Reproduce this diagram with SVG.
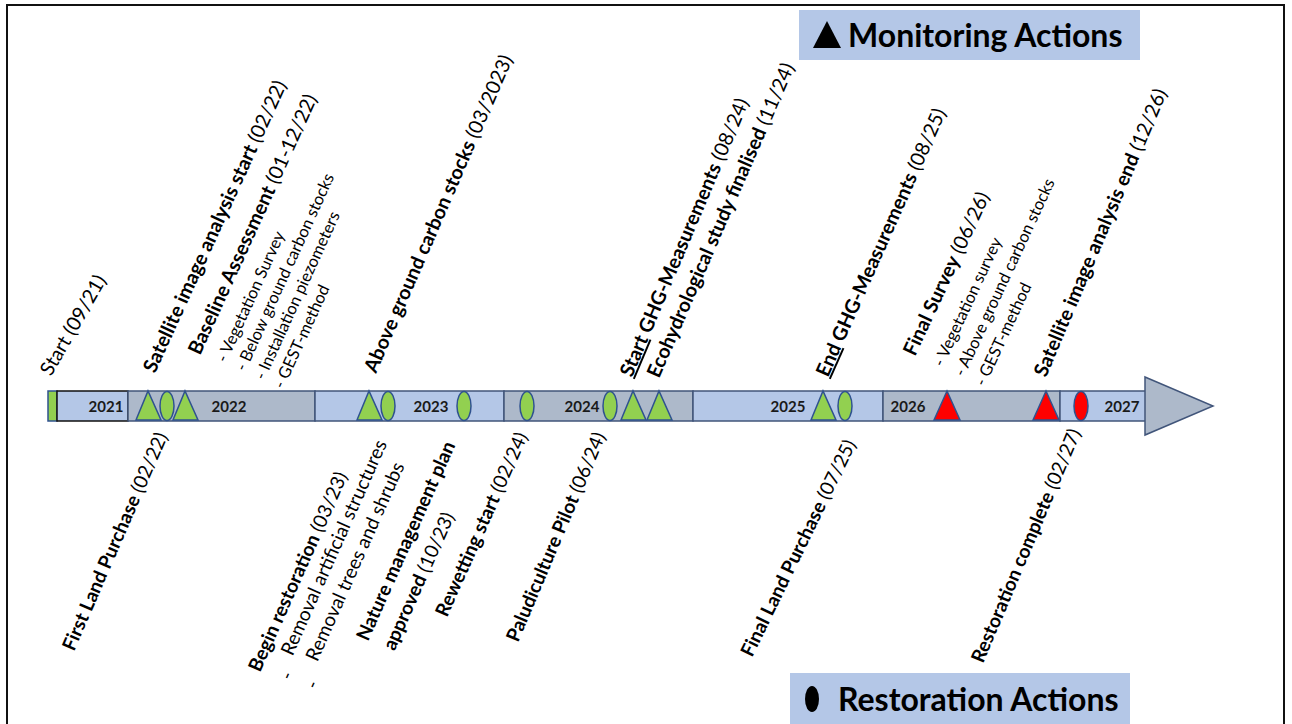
<svg xmlns="http://www.w3.org/2000/svg" width="1292" height="724" viewBox="0 0 1292 724">
<style>
.lbl{font-family:Lato,"Liberation Sans",sans-serif;font-size:19.8px;fill:#000}
.bt{font-size:19.2px}
.b{font-weight:bold}
.sub{font-size:16.5px}
.rm{font-size:19.2px}
.u{text-decoration:underline}
.yr{font-family:Lato,"Liberation Sans",sans-serif;font-size:15px;font-weight:bold;text-anchor:middle;fill:#1a1a1a}
.seg{stroke:#41557a;stroke-width:1.5}
.lb{fill:#b4c7e7}
.gr{fill:#adb9ca}
.gm{fill:#92d050;stroke:#2f528f;stroke-width:1.5}
.rd{fill:#ff0000;stroke:#2f528f;stroke-width:1.5}
.leg{font-family:Lato,"Liberation Sans",sans-serif;font-size:32px;font-weight:bold;fill:#000}
</style>
<rect x="0" y="0" width="1292" height="724" fill="#fff"/>
<rect x="7" y="5" width="1277" height="740" fill="none" stroke="#111" stroke-width="2"/>

<g id="timeline">
  <rect x="48" y="391" width="9" height="30" class="gm"/>
  <rect x="57" y="391" width="71" height="30" class="lb" stroke="#111" stroke-width="1.5"/>
  <rect x="128" y="391" width="187" height="30" class="seg gr"/>
  <rect x="315" y="391" width="189" height="30" class="seg lb"/>
  <rect x="504" y="391" width="189" height="30" class="seg gr"/>
  <rect x="693" y="391" width="190" height="30" class="seg lb"/>
  <rect x="883" y="391" width="177" height="30" class="seg gr"/>
  <rect x="1060" y="391" width="87" height="30" class="seg lb"/>
  <polygon points="1145,377 1213,406 1145,435" class="seg gr"/>
  <text class="yr" x="106" y="412">2021</text>
  <text class="yr" x="229" y="412">2022</text>
  <text class="yr" x="431" y="412">2023</text>
  <text class="yr" x="582" y="412">2024</text>
  <text class="yr" x="788" y="412">2025</text>
  <text class="yr" x="908" y="412">2026</text>
  <text class="yr" x="1122" y="412">2027</text>
</g>

<g id="markers">
  <polygon points="136,420 148,391 161,420" class="gm"/>
  <ellipse cx="167" cy="406" rx="7" ry="14.5" class="gm"/>
  <polygon points="173,420 185,391 198,420" class="gm"/>
  <polygon points="357,420 369,391 382,420" class="gm"/>
  <ellipse cx="388" cy="406" rx="7" ry="14.5" class="gm"/>
  <ellipse cx="464" cy="406" rx="7" ry="14.5" class="gm"/>
  <ellipse cx="527" cy="406" rx="7" ry="14.5" class="gm"/>
  <ellipse cx="610" cy="406" rx="7" ry="14.5" class="gm"/>
  <polygon points="621,420 633,391 646,420" class="gm"/>
  <polygon points="647,420 659,391 672,420" class="gm"/>
  <polygon points="811,420 823,391 836,420" class="gm"/>
  <ellipse cx="845" cy="406" rx="7" ry="14.5" class="gm"/>
  <polygon points="934,420 947,391 960,420" class="rd"/>
  <polygon points="1033,420 1046,391 1059,420" class="rd"/>
  <ellipse cx="1081" cy="406" rx="7" ry="14.5" class="rd"/>
</g>

<g id="label-start"><text class="lbl" transform="translate(51,377) rotate(-60)">Start (09/21)</text></g>
<g id="label-sat-start"><text class="lbl" transform="translate(155,374) rotate(-65.5)"><tspan class="b">Satellite image analysis start</tspan> (02/22)</text></g>
<g id="label-baseline"><text class="lbl" transform="translate(200,356) rotate(-65.5)"><tspan class="b">Baseline Assessment</tspan> (01-12/22)<tspan class="sub" x="4" y="27">- Vegetation Survey</tspan><tspan class="sub" x="4" y="48">- Below ground carbon stocks</tspan><tspan class="sub" x="4" y="69">- Installation piezometers</tspan><tspan class="sub" x="4" y="90">- GEST-method</tspan></text></g>
<g id="label-above"><text class="lbl" transform="translate(376,374) rotate(-66.5)" font-size="19.4"><tspan class="b">Above ground carbon stocks</tspan> (03/2023)</text></g>
<g id="label-start-ghg"><text class="lbl" transform="translate(632,378) rotate(-67)"><tspan class="b u">Start</tspan><tspan class="b"> GHG-Measurements</tspan> (08/24)</text></g>
<g id="label-eco"><text class="lbl" transform="translate(659,379) rotate(-66.5)"><tspan class="b">Ecohydrological study finalised</tspan> (11/24)</text></g>
<g id="label-end-ghg"><text class="lbl" transform="translate(828,378) rotate(-66)"><tspan class="b u">End</tspan><tspan class="b"> GHG-Measurements</tspan> (08/25)</text></g>
<g id="label-final-survey"><text class="lbl" transform="translate(915,357) rotate(-65)"><tspan class="b">Final Survey</tspan> (06/26)<tspan class="sub" x="2" y="30">- Vegetation survey</tspan><tspan class="sub" x="2" y="53">- Above ground carbon stocks</tspan><tspan class="sub" x="2" y="76">- GEST-method</tspan></text></g>
<g id="label-sat-end"><text class="lbl" transform="translate(1046,378) rotate(-67)"><tspan class="b">Satellite image analysis end</tspan> (12/26)</text></g>

<g id="label-first-land"><text class="lbl bt" transform="translate(74,652) rotate(-66.5)"><tspan class="b">First Land Purchase</tspan> (02/22)</text></g>
<g id="label-begin"><text class="lbl bt" transform="translate(260,673) rotate(-66)"><tspan class="b">Begin restoration</tspan> (03/23)<tspan class="rm" x="5" y="32">-</tspan><tspan class="rm" x="28" y="23">Removal artificial structures</tspan><tspan class="rm" x="7" y="59">-</tspan><tspan class="rm" x="33" y="48">Removal trees and shrubs</tspan></text></g>
<g id="label-nature"><text class="lbl bt" transform="translate(368,642) rotate(-66)"><tspan class="b">Nature management plan</tspan><tspan class="b" x="2" y="28">approved</tspan> (10/23)</text></g>
<g id="label-rewet"><text class="lbl bt" transform="translate(447,618) rotate(-66)"><tspan class="b">Rewetting start</tspan> (02/24)</text></g>
<g id="label-palud"><text class="lbl bt" transform="translate(518,643) rotate(-67)"><tspan class="b">Paludiculture Pilot</tspan> (06/24)</text></g>
<g id="label-final-land"><text class="lbl bt" transform="translate(752,658) rotate(-64)"><tspan class="b">Final Land Purchase</tspan> (07/25)</text></g>
<g id="label-restoration-complete"><text class="lbl bt" transform="translate(983,664) rotate(-67)"><tspan class="b">Restoration complete</tspan> (02/27)</text></g>

<g id="legend-monitoring">
  <rect x="799" y="10" width="341" height="50" fill="#b4c7e7"/>
  <polygon points="813,48 827,21 841,48" fill="#000"/>
  <text class="leg" x="848" y="47">Monitoring Actions</text>
</g>
<g id="legend-restoration">
  <rect x="790" y="673" width="340" height="55" fill="#b4c7e7"/>
  <ellipse cx="812" cy="699" rx="7" ry="13" fill="#000"/>
  <text class="leg" x="838" y="711">Restoration Actions</text>
</g>
</svg>
